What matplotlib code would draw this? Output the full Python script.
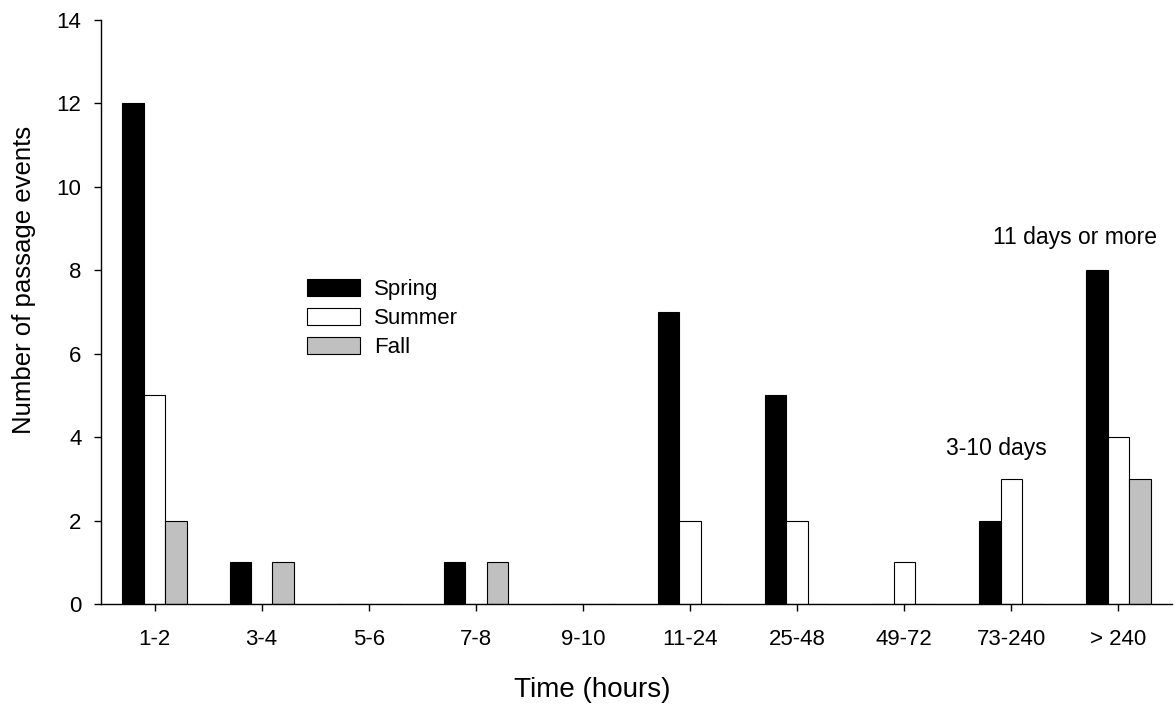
import numpy as np
import matplotlib.pyplot as plt

plt.rcParams['font.family'] = ['Liberation Sans', 'DejaVu Sans']

categories = ['1-2', '3-4', '5-6', '7-8', '9-10', '11-24', '25-48', '49-72', '73-240', '> 240']
spring = [12, 1, 0, 1, 0, 7, 5, 0, 2, 8]
summer = [5, 0, 0, 0, 0, 2, 2, 1, 3, 4]
fall = [2, 1, 0, 1, 0, 0, 0, 0, 0, 3]

fig = plt.figure(figsize=(11.75, 7.19), dpi=100)
ax = fig.add_axes([101 / 1175, 1 - 604 / 719, (1172 - 101) / 1175, (604 - 20) / 719])

x = np.arange(len(categories))
w = 0.2
ax.bar(x - w, spring, w, color='black', edgecolor='black', linewidth=0.8, label='Spring')
ax.bar(x, summer, w, color='white', edgecolor='black', linewidth=0.8, label='Summer')
ax.bar(x + w, fall, w, color='#c0c0c0', edgecolor='black', linewidth=0.8, label='Fall')

ax.set_xlim(-0.5, 9.5)
ax.set_ylim(0, 14)
ax.set_yticks(range(0, 15, 2))
ax.set_xticks(x)
ax.set_xticklabels(categories)
ax.spines['top'].set_visible(False)
ax.spines['right'].set_visible(False)
for s in ('left', 'bottom'):
    ax.spines[s].set_linewidth(1.0)
ax.tick_params(direction='out', length=5, width=1.0, labelsize=16)
ax.tick_params(axis='y', pad=9)
ax.tick_params(axis='x', pad=13)

# labels sit a bit off-centre in the original
ax.set_xlabel('Time (hours)', fontsize=20)
ax.set_ylabel('Number of passage events', fontsize=18.5)
ax.xaxis.set_label_coords((592 - 101) / 1071, -(690 - 604) / 584)
ax.yaxis.set_label_coords(-(101 - 24) / 1071, (604 - 280) / 584)
ax.xaxis.label.set_va('center')
ax.yaxis.label.set_va('center')

ax.text(8.59, 8.78, '11 days or more', ha='center', va='center', fontsize=16.5)
ax.text(7.86, 3.72, '3-10 days', ha='center', va='center', fontsize=16.5)

ax.legend(loc='upper left', bbox_to_anchor=(307 / 1175, 1 - 279 / 719),
          bbox_transform=fig.transFigure, frameon=False, fontsize=16,
          handlelength=2.4, handleheight=0.77, handletextpad=0.6,
          labelspacing=0.36, borderpad=0, borderaxespad=0)

fig.savefig('out.png', dpi=100)
